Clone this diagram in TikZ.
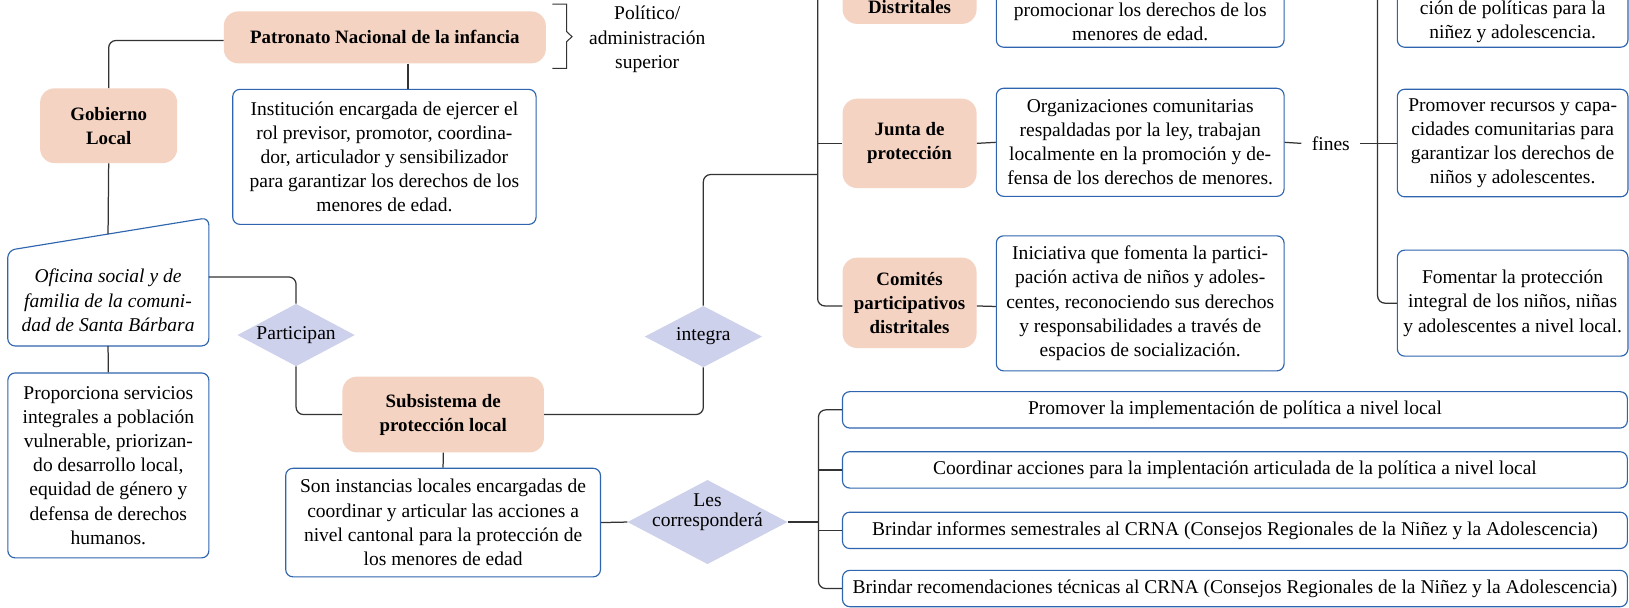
\documentclass[tikz,border=0pt]{standalone}
\usepackage{fontspec}
\setmainfont{Liberation Serif}
\usetikzlibrary{shapes.geometric}
\definecolor{peach}{HTML}{F5D3C2}
\definecolor{lav}{HTML}{CDD1EB}
\definecolor{bblue}{HTML}{2F65AE}
\definecolor{lin}{HTML}{333333}
\newcommand{\nfont}{\fontsize{18.8}{23.3}\selectfont}
\newcommand{\bfont}{\fontsize{18.2}{23}\selectfont\bfseries}
\begin{document}
\begin{tikzpicture}[x=1pt, y=-1pt, font=\nfont,
  pch/.style={fill=peach, rounded corners=14pt, font=\bfont, align=center, inner sep=0pt},
  desc/.style={draw=bblue, line width=1.1pt, rounded corners=7pt, fill=white, align=center, inner sep=0pt},
  dia/.style={diamond, fill=lav, inner sep=0pt},
  con/.style={draw=lin, line width=1.2pt, rounded corners=7pt},
  txt/.style={align=center, inner sep=0pt}]
\fill[white] (0,0) rectangle (1568,585);
\useasboundingbox (0,0) rectangle (1568,585);
\clip (0,0) rectangle (1568,585);

% left part
\node[pch, minimum width=310pt, minimum height=50pt] (pat) at (370.4,36) {Patronato Nacional de la infancia};
\node[pch, minimum width=132pt, minimum height=72pt] (gob) at (104.6,121) {Gobierno\\Local};
\coordinate (b1a) at (531.8,3.9);
\coordinate (b1b) at (531.8,65.8);
\draw[draw=lin, line width=1pt] (b1a) -- (545.5,3.9) -- (545.5,30.5) -- (550.6,35.3) -- (545.5,40) -- (545.5,65.8) -- (b1b);
\node[txt] (pol) at (623,38) {Político/\\administración\\superior};
\node[desc, minimum width=292pt, minimum height=130pt] (inst) at (370,151) {Institución encargada de ejercer el\\rol previsor, promotor, coordina-\\dor, articulador y sensibilizador\\para garantizar los derechos de los\\menores de edad.};

\draw[draw=bblue, line width=1.1pt, rounded corners=7pt, fill=white] (104,333) -- (7.5,333) -- (7.5,241) -- (201,209.5) -- (201,333) -- cycle;
\node[txt, font=\nfont\itshape] (ofi) at (104,289) {Oficina social y de\\familia de la comuni-\\dad de Santa Bárbara};
\coordinate (ofitop) at (104,225.3);
\coordinate (ofibot) at (104,333);
\coordinate (ofiright) at (201,266.6);

\node[desc, minimum width=193.5pt, minimum height=178pt] (prop) at (104.3,448) {Proporciona servicios\\integrales a población\\vulnerable, priorizan-\\do desarrollo local,\\equidad de género y\\defensa de derechos\\humanos.};

\node[dia, minimum width=113pt, minimum height=60pt] (part) at (285,322.5) {};
\node[txt] (partT) at (part) {Participan};
\node[pch, minimum width=194pt, minimum height=73pt] (sub) at (426.6,399) {Subsistema de\\protección local};
\node[desc, minimum width=303pt, minimum height=104.5pt] (son) at (426.5,503) {Son instancias locales encargadas de\\coordinar y articular las acciones a\\nivel cantonal para la protección de\\los menores de edad};
\node[dia, minimum width=154pt, minimum height=81pt] (les) at (681,502.5) {};
\node[txt, font=\fontsize{18.8}{19.5}\selectfont] (lesT) at (681,493) {Les\\corresponderá};
\node[dia, minimum width=113pt, minimum height=59pt] (integ) at (677,324) {};
\node[txt] (integT) at (integ) {integra};

% middle column
\node[pch, minimum width=129pt, minimum height=86pt] (dist) at (875.5,-20) {};
\node[txt, font=\bfont] (distT) at (875.5,7) {Distritales};
\node[pch, minimum width=129pt, minimum height=86pt] (junta) at (875.5,138) {Junta de\\protección};
\node[pch, minimum width=129pt, minimum height=87pt] (comi) at (875.5,291.5) {Comités\\participativos\\distritales};

\node[desc, minimum width=277pt, minimum height=140pt, anchor=south] (dtxt) at (1097.5,46) {};
\node[txt] (dtxtT) at (1097.5,21) {promocionar los derechos de los\\menores de edad.};
\node[desc, minimum width=277pt, minimum height=104pt] (jtxt) at (1097.5,137) {Organizaciones comunitarias\\respaldadas por la ley, trabajan\\localmente en la promoción y de-\\fensa de los derechos de menores.};
\node[desc, minimum width=277pt, minimum height=130pt] (ctxt) at (1097.5,292) {Iniciativa que fomenta la partici-\\pación activa de niños y adoles-\\centes, reconociendo sus derechos\\y responsabilidades a través de\\espacios de socialización.};
\node[inner xsep=10pt, inner ysep=2pt] (fines) at (1281,138) {fines};

% right column
\node[desc, minimum width=222pt, minimum height=140pt, anchor=south] (rtop) at (1456,46) {};
\node[txt] (rtopT) at (1456,21) {ción de políticas para la\\niñez y adolescencia.};
\node[desc, minimum width=222pt, minimum height=103.5pt] (rprom) at (1456,137.7) {Promover recursos y capa-\\cidades comunitarias para\\garantizar los derechos de\\niños y adolescentes.};
\node[desc, minimum width=222pt, minimum height=102pt] (rfom) at (1456,291.8) {Fomentar la protección\\integral de los niños, niñas\\y adolescentes a nivel local.};

% bottom list
\node[desc, minimum width=755.5pt, minimum height=35pt] (bA) at (1188.7,394.5) {Promover la implementación de política a nivel local};
\node[desc, minimum width=755.5pt, minimum height=35pt] (bB) at (1188.7,452.3) {Coordinar acciones para la implentación articulada de la política a nivel local};
\node[desc, minimum width=755.5pt, minimum height=35pt] (bC) at (1188.7,510.5) {Brindar informes semestrales al CRNA (Consejos Regionales de la Niñez y la Adolescencia)};
\node[desc, minimum width=755.5pt, minimum height=35pt] (bD) at (1188.7,566.5) {Brindar recomendaciones técnicas al CRNA (Consejos Regionales de la Niñez y la Adolescencia)};

% connectors
\draw[con] ([yshift=-3pt]pat.west) -| (gob.north);
\draw[con] ([xshift=22.4pt]pat.south) -- ([xshift=22.4pt]pat.south |- inst.north);
\draw[con] (gob.south) -- (ofitop);
\draw[con] (ofibot) -- (prop.north);
\draw[con] (ofiright) -| (part.north);
\draw[con] (part.south) |- (sub.west);
\draw[con] (sub.east) -| (integ.south);
\coordinate (tr1top) at (787,-40);
\draw[con] (integ.north) |- (tr1top |- 0,168);
\draw[con] (tr1top) |- ([yshift=-3pt]comi.west);
\draw[con] (tr1top |- junta.west) -- (junta.west);
\draw[con] (tr1top |- dist.west) -- (dist.west);
\draw[con] (junta.east) -- (jtxt.west);
\draw[con] ([yshift=-3pt]comi.east) -- ([yshift=-3pt]ctxt.west);
\draw[con] (dist.east) -- (dist.east -| dtxt.west);
\draw[con] (jtxt.east) -- (fines.west);
\draw[con] (fines.east) -- (fines.east -| rprom.west);
\coordinate (tr2top) at (1326,-40);
\draw[con] (tr2top) |- (rfom.west);
\draw[con] (tr2top |- rtop.west) -- (rtop.west);
\draw[con] (sub.south) -- (son.north);
\draw[con] (son.east) -- (les.west);
\coordinate (tr3) at (787.8,480);
\draw[con] (bA.west) -| (tr3) |- (bD.west);
\draw[con] (les.east) -- (tr3 |- les.east);
\draw[con] (bB.west) -- (tr3 |- bB.west);
\draw[con] (bC.west) -- (tr3 |- bC.west);
\end{tikzpicture}
\end{document}
